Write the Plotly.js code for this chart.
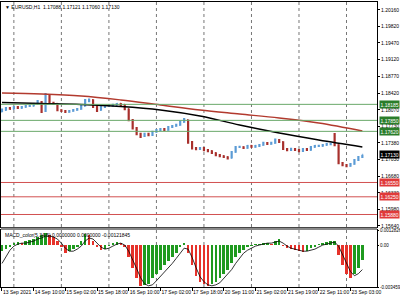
<!DOCTYPE html>
<html><head><meta charset="utf-8">
<script src="https://cdn.plot.ly/plotly-3.0.1.min.js"></script>
<style>html,body{margin:0;padding:0;background:#fff}#c{width:400px;height:300px}</style>
</head><body><div id="c"></div>
<script>
// ---- data ----
const openP  = [1.18040,1.18067,1.18109,1.18088,1.18130,1.18109,1.18130,1.18151,1.18151,1.18193,1.18234,1.18046,1.18380,1.18214,1.18193,1.18067,1.18046,1.18025,1.18046,1.18067,1.18088,1.18151,1.18255,1.18276,1.18130,1.18067,1.18130,1.18151,1.18151,1.18172,1.18193,1.18172,1.18088,1.17858,1.17690,1.17565,1.17523,1.17565,1.17544,1.17607,1.17648,1.17669,1.17648,1.17711,1.17732,1.17753,1.17816,1.17858,1.17397,1.17272,1.17251,1.17272,1.17230,1.17209,1.17167,1.17125,1.17104,1.17083,1.17062,1.17188,1.17293,1.17293,1.17272,1.17314,1.17293,1.17314,1.17334,1.17376,1.17355,1.17376,1.17439,1.17397,1.17251,1.17230,1.17251,1.17230,1.17209,1.17251,1.17230,1.17293,1.17314,1.17314,1.17334,1.17355,1.17355,1.17334,1.16958,1.16916,1.16895,1.16937,1.17020,1.17083];
const highP  = [1.18100,1.18130,1.18130,1.18150,1.18150,1.18150,1.18170,1.18175,1.18215,1.18276,1.18255,1.18423,1.18400,1.18240,1.18210,1.18085,1.18065,1.18065,1.18090,1.18110,1.18175,1.18297,1.18310,1.18290,1.18150,1.18150,1.18170,1.18180,1.18200,1.18215,1.18215,1.18190,1.18100,1.17880,1.17710,1.17590,1.17590,1.17590,1.17630,1.17670,1.17690,1.17690,1.17730,1.17755,1.17780,1.17840,1.17900,1.17870,1.17420,1.17295,1.17295,1.17290,1.17250,1.17225,1.17185,1.17145,1.17120,1.17100,1.17210,1.17315,1.17320,1.17310,1.17335,1.17335,1.17335,1.17355,1.17400,1.17395,1.17400,1.17470,1.17460,1.17415,1.17270,1.17275,1.17270,1.17250,1.17270,1.17270,1.17315,1.17335,1.17340,1.17355,1.17380,1.17380,1.17586,1.17350,1.16980,1.16935,1.16960,1.17040,1.17105,1.17131];
const lowP   = [1.18020,1.18050,1.18070,1.18075,1.18090,1.18095,1.18115,1.18130,1.18140,1.18180,1.18004,1.18025,1.18190,1.18170,1.18040,1.18025,1.18004,1.18010,1.18030,1.18050,1.18070,1.18140,1.18230,1.18110,1.18025,1.18050,1.18110,1.18130,1.18135,1.18160,1.18150,1.18060,1.17830,1.17660,1.17540,1.17480,1.17500,1.17520,1.17525,1.17590,1.17625,1.17625,1.17630,1.17690,1.17715,1.17735,1.17800,1.17360,1.17240,1.17225,1.17230,1.17205,1.17185,1.17145,1.17100,1.17080,1.17060,1.17030,1.17050,1.17170,1.17270,1.17250,1.17255,1.17275,1.17275,1.17295,1.17320,1.17335,1.17340,1.17360,1.17375,1.17230,1.17205,1.17210,1.17210,1.17185,1.17190,1.17210,1.17215,1.17275,1.17295,1.17300,1.17320,1.17330,1.17310,1.16930,1.16890,1.16870,1.16880,1.16920,1.17000,1.17060];
const closeP = [1.18067,1.18109,1.18088,1.18130,1.18109,1.18130,1.18151,1.18151,1.18193,1.18234,1.18046,1.18380,1.18214,1.18193,1.18067,1.18046,1.18025,1.18046,1.18067,1.18088,1.18151,1.18255,1.18276,1.18130,1.18067,1.18130,1.18151,1.18151,1.18172,1.18193,1.18172,1.18088,1.17858,1.17690,1.17565,1.17523,1.17565,1.17544,1.17607,1.17648,1.17669,1.17648,1.17711,1.17732,1.17753,1.17816,1.17858,1.17397,1.17272,1.17251,1.17272,1.17230,1.17209,1.17167,1.17125,1.17104,1.17083,1.17062,1.17188,1.17293,1.17293,1.17272,1.17314,1.17293,1.17314,1.17334,1.17376,1.17355,1.17376,1.17439,1.17397,1.17251,1.17230,1.17251,1.17230,1.17209,1.17251,1.17230,1.17293,1.17314,1.17314,1.17334,1.17355,1.17355,1.17334,1.16958,1.16916,1.16895,1.16937,1.17020,1.17083,1.17130];

const maBars  = [0,20,40,60,80,100,120,140,160,182];
const maSlow  = [1.18423,1.18402,1.18360,1.18276,1.18172,1.18067,1.17983,1.17900,1.17795,1.17628];
const maFast  = [1.18224,1.18203,1.18182,1.18140,1.18067,1.17941,1.17753,1.17586,1.17439,1.17293];

const macdHist = [-0.00048,-0.00031,-0.00014,0.00019,0.00028,0.00019,0.00036,0.00045,0.00053,0.00070,0.00087,0.00104,0.00087,0.00070,0.00036,-0.00014,-0.00065,-0.00048,-0.00031,-0.00014,0.00036,0.00096,0.00087,0.00036,-0.00014,-0.00040,-0.00031,-0.00006,0.00019,0.00028,0.00019,-0.00014,-0.00099,-0.00184,-0.00269,-0.00336,-0.00328,-0.00319,-0.00269,-0.00235,-0.00201,-0.00167,-0.00133,-0.00099,-0.00065,-0.00014,0.00019,-0.00065,-0.00167,-0.00252,-0.00302,-0.00319,-0.00336,-0.00319,-0.00302,-0.00269,-0.00235,-0.00201,-0.00150,-0.00099,-0.00065,-0.00040,-0.00014,-0.00006,0.00011,0.00011,0.00019,0.00019,0.00011,0.00036,0.00053,-0.00006,-0.00023,-0.00031,-0.00040,-0.00048,-0.00057,-0.00048,-0.00023,-0.00014,0.00011,0.00019,0.00028,0.00036,0.00036,-0.00082,-0.00167,-0.00235,-0.00269,-0.00235,-0.00184,-0.00122];
const macdSignal = [-0.00150,-0.00091,-0.00040,-0.00006,0.00011,0.00019,0.00019,0.00028,0.00036,0.00053,0.00062,0.00079,0.00079,0.00070,0.00053,0.00019,-0.00023,-0.00048,-0.00048,-0.00031,-0.00006,0.00036,0.00062,0.00053,0.00019,-0.00014,-0.00031,-0.00023,-0.00006,0.00011,0.00019,0.00003,-0.00048,-0.00116,-0.00192,-0.00269,-0.00319,-0.00336,-0.00328,-0.00294,-0.00260,-0.00226,-0.00192,-0.00150,-0.00108,-0.00065,-0.00023,-0.00031,-0.00099,-0.00184,-0.00260,-0.00302,-0.00328,-0.00336,-0.00328,-0.00311,-0.00277,-0.00243,-0.00201,-0.00150,-0.00108,-0.00065,-0.00040,-0.00023,-0.00006,0.00003,0.00011,0.00019,0.00019,0.00028,0.00036,0.00019,-0.00006,-0.00023,-0.00031,-0.00040,-0.00048,-0.00048,-0.00040,-0.00031,-0.00014,0.00003,0.00011,0.00019,0.00028,-0.00006,-0.00074,-0.00150,-0.00218,-0.00252,-0.00235,-0.00201];

const priceTicks = [1.20160,1.19820,1.19470,1.19120,1.18770,1.18420,1.18070,1.17730,1.17380,1.17030,1.16680,1.16330,1.15980,1.15640];
const timeBars   = [0,16,32,48,64,80,96,112,128,144,160,176];
const timeLabels = ["13 Sep 2021","14 Sep 10:00","15 Sep 02:00","15 Sep 18:00","16 Sep 10:00","17 Sep 02:00","17 Sep 18:00","20 Sep 11:00","21 Sep 02:00","21 Sep 19:00","22 Sep 11:00","23 Sep 03:00"];
const gridBars   = [6,30,54,78,102,126,150,174];
const greenLevels = [1.18185,1.17850,1.17620];
const redLevels   = [1.16550,1.16250,1.15880];
const lastPrice   = 1.17130;
const macdTicks   = [0.0012826,0,-0.003459];
const macdTickText= ["0.0012826","0.00","-0.003459"];

// ---- drawing ----
const bars = closeP.map((_, i) => 2 * i);
const FONT = {family: "Liberation Sans, Arial, sans-serif", size: 5, color: "#000"};
const GREEN_LINE = "#6aa86a", RED_LINE = "#d25050";

const histColors = macdHist.map((v, i) => (i === 0 || v >= macdHist[i-1]) ? "#1f9a1f" : "#e6322a");

const traces = [
  {type: "ohlc", x: bars, open: openP, high: highP, low: lowP, close: closeP,
   xaxis: "x", yaxis: "y", tickwidth: 0.2,
   increasing: {line: {color: "#5b9bd5", width: 2.2}},
   decreasing: {line: {color: "#a8302c", width: 2.2}},
   hoverinfo: "skip", showlegend: false},
  {type: "scatter", mode: "lines", x: maBars, y: maSlow, line: {color: "#b23a2e", width: 1.4, shape: "spline"},
   xaxis: "x", yaxis: "y", showlegend: false, hoverinfo: "skip"},
  {type: "scatter", mode: "lines", x: maBars, y: maFast, line: {color: "#000", width: 1.4, shape: "spline"},
   xaxis: "x", yaxis: "y", showlegend: false, hoverinfo: "skip"},
  {type: "bar", x: bars, y: macdHist, marker: {color: histColors, line: {width: 0}}, width: 1.3,
   xaxis: "x2", yaxis: "y2", showlegend: false, hoverinfo: "skip"},
  {type: "scatter", mode: "lines", x: bars, y: macdSignal, line: {color: "#000", width: 0.8},
   xaxis: "x2", yaxis: "y2", showlegend: false, hoverinfo: "skip"}
];

const shapes = [];
gridBars.forEach(b => shapes.push({type: "line", xref: "x", yref: "paper", x0: b, x1: b, y0: 0, y1: 1,
  line: {color: "#777", width: 1, dash: "dot"}, layer: "below"}));
greenLevels.forEach(v => shapes.push({type: "line", xref: "paper", yref: "y", x0: 0, x1: 1, y0: v, y1: v,
  line: {color: GREEN_LINE, width: 1}}));
redLevels.forEach(v => shapes.push({type: "line", xref: "paper", yref: "y", x0: 0, x1: 1, y0: v, y1: v,
  line: {color: RED_LINE, width: 1}}));
shapes.push({type: "rect", xref: "paper", yref: "paper", x0: 0, x1: 1, y0: 0.2, y1: 0.2088,
  fillcolor: "#8a8a8a", line: {width: 0}});

const annotations = [];
const box = (v, bg) => ({xref: "paper", yref: "y", x: 1, y: v, xanchor: "left", yanchor: "middle", xshift: 2,
  text: v.toFixed(5), showarrow: false, bgcolor: bg, borderpad: 0.5,
  font: {family: FONT.family, size: 5, color: "#fff"}});
greenLevels.forEach(v => annotations.push(box(v, "#2a7d2a")));
redLevels.forEach(v => annotations.push(box(v, "#e03a3a")));
annotations.push(box(lastPrice, "#000"));
annotations.push({xref: "paper", yref: "paper", x: 0.004, y: 0.999, xanchor: "left", yanchor: "top",
  showarrow: false, text: "▼ EURUSD,H1  1.17088 1.17121 1.17060 1.17130", font: FONT});
annotations.push({xref: "paper", yref: "paper", x: 0.006, y: 0.199, xanchor: "left", yanchor: "top",
  showarrow: false, text: "MACD_color(5,34,5) 0.0000000 0.0000000 -0.00121845", font: FONT});

const layout = {
  width: 400, height: 300,
  margin: {l: 1, r: 23, t: 2, b: 13},
  paper_bgcolor: "#fff", plot_bgcolor: "#fff",
  font: FONT, bargap: 0,
  xaxis: {domain: [0, 1], range: [-0.5, 189.4], anchor: "y", showticklabels: false, ticks: "",
    showgrid: false, zeroline: false, showline: true, linecolor: "#000", linewidth: 1, mirror: true,
    rangeslider: {visible: false}, fixedrange: true},
  yaxis: {domain: [0.2088, 1], range: [1.15608, 1.20327], side: "right", anchor: "x",
    tickvals: priceTicks, tickformat: ".5f", ticks: "outside", ticklen: 2, tickcolor: "#000",
    showgrid: false, zeroline: false, showline: true, linecolor: "#000", linewidth: 1, mirror: true,
    tickfont: FONT, fixedrange: true},
  xaxis2: {domain: [0, 1], range: [-0.5, 189.4], anchor: "y2", matches: "x",
    tickvals: timeBars, ticktext: timeLabels, ticks: "outside", ticklen: 3, tickcolor: "#000",
    tickangle: 0, ticklabelposition: "outside right", tickfont: FONT, automargin: false,
    showgrid: false, zeroline: false, showline: true, linecolor: "#000", linewidth: 1, mirror: true, fixedrange: true},
  yaxis2: {domain: [0, 0.2], range: [-0.003459, 0.0012826], side: "right", anchor: "x2",
    tickvals: macdTicks, ticktext: macdTickText, ticks: "outside", ticklen: 1, tickcolor: "#000",
    showgrid: false, zeroline: false, showline: true, linecolor: "#000", linewidth: 1, mirror: true,
    tickfont: {family: FONT.family, size: 4.5, color: "#000"}, fixedrange: true},
  shapes: shapes, annotations: annotations
};

Plotly.newPlot("c", traces, layout, {staticPlot: true, displayModeBar: false});
</script></body></html>
